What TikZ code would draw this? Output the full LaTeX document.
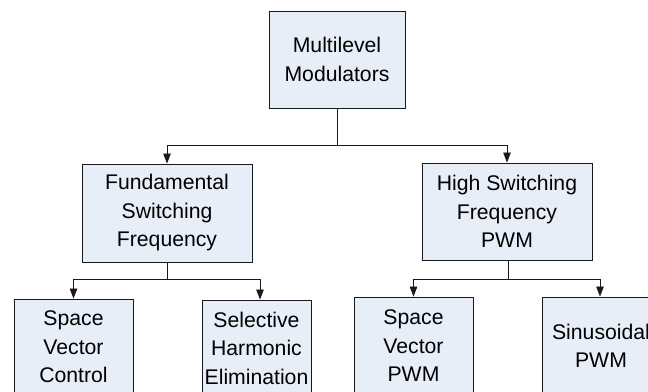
\documentclass[tikz,border=0pt]{standalone}
\usepackage{fontspec}
\setmainfont{Liberation Sans}
\usetikzlibrary{arrows.meta}
\definecolor{boxfill}{RGB}{232,238,248}
\definecolor{boxline}{RGB}{25,25,25}
\begin{document}
\begin{tikzpicture}[x=1pt,y=-1pt,
  box/.style={draw=boxline,fill=boxfill,line width=0.9pt,inner sep=0pt,align=center,
    font=\fontsize{21.2}{28.5}\selectfont},
  link/.style={draw=boxline,line width=0.8pt},
  arr/.style={link,-{Triangle[length=10pt,width=7.5pt]}}]
\useasboundingbox (0,0) rectangle (648,391);
\fill[white] (0,0) rectangle (648,391);
\clip (0,0) rectangle (648,391);
\node[box,minimum width=136pt,minimum height=97pt] (top) at (337,59.5) {Multilevel\\Modulators};
\node[box,minimum width=170pt,minimum height=98pt] (fund) at (167,213) {Fundamental\\Switching\\Frequency};
\node[box,minimum width=170pt,minimum height=97pt] (high) at (507,211.5) {High Switching\\Frequency\\PWM};
\node[box,minimum width=119pt,minimum height=96pt] (svc) at (73.5,347) {Space\\Vector\\Control};
\node[box,minimum width=109pt,minimum height=96pt] (she) at (256.5,348) {Selective\\Harmonic\\Elimination};
\node[box,minimum width=119pt,minimum height=98pt] (svpwm) at (413.5,346) {Space\\Vector\\PWM};
\node[box,minimum width=118pt,minimum height=98pt] (spwm) at (601,346) {Sinusoidal\\PWM};
\coordinate (j1) at (337,145);
\coordinate (j2) at (167,279);
\coordinate (j3) at (508,279);
\draw[link] (top.south) -- (j1);
\draw[arr] (j1) -| (fund.north);
\draw[arr] (j1) -| (high.north);
\draw[link] (fund.south) -- (j2);
\draw[arr] (j2) -| (svc.north);
\draw[arr] (j2) -| ([xshift=3.5pt]she.north);
\draw[link] ([xshift=1pt]high.south) -- (j3);
\draw[arr] (j3) -| (svpwm.north);
\draw[arr] (j3) -| ([xshift=-1pt]spwm.north);
\end{tikzpicture}
\end{document}
